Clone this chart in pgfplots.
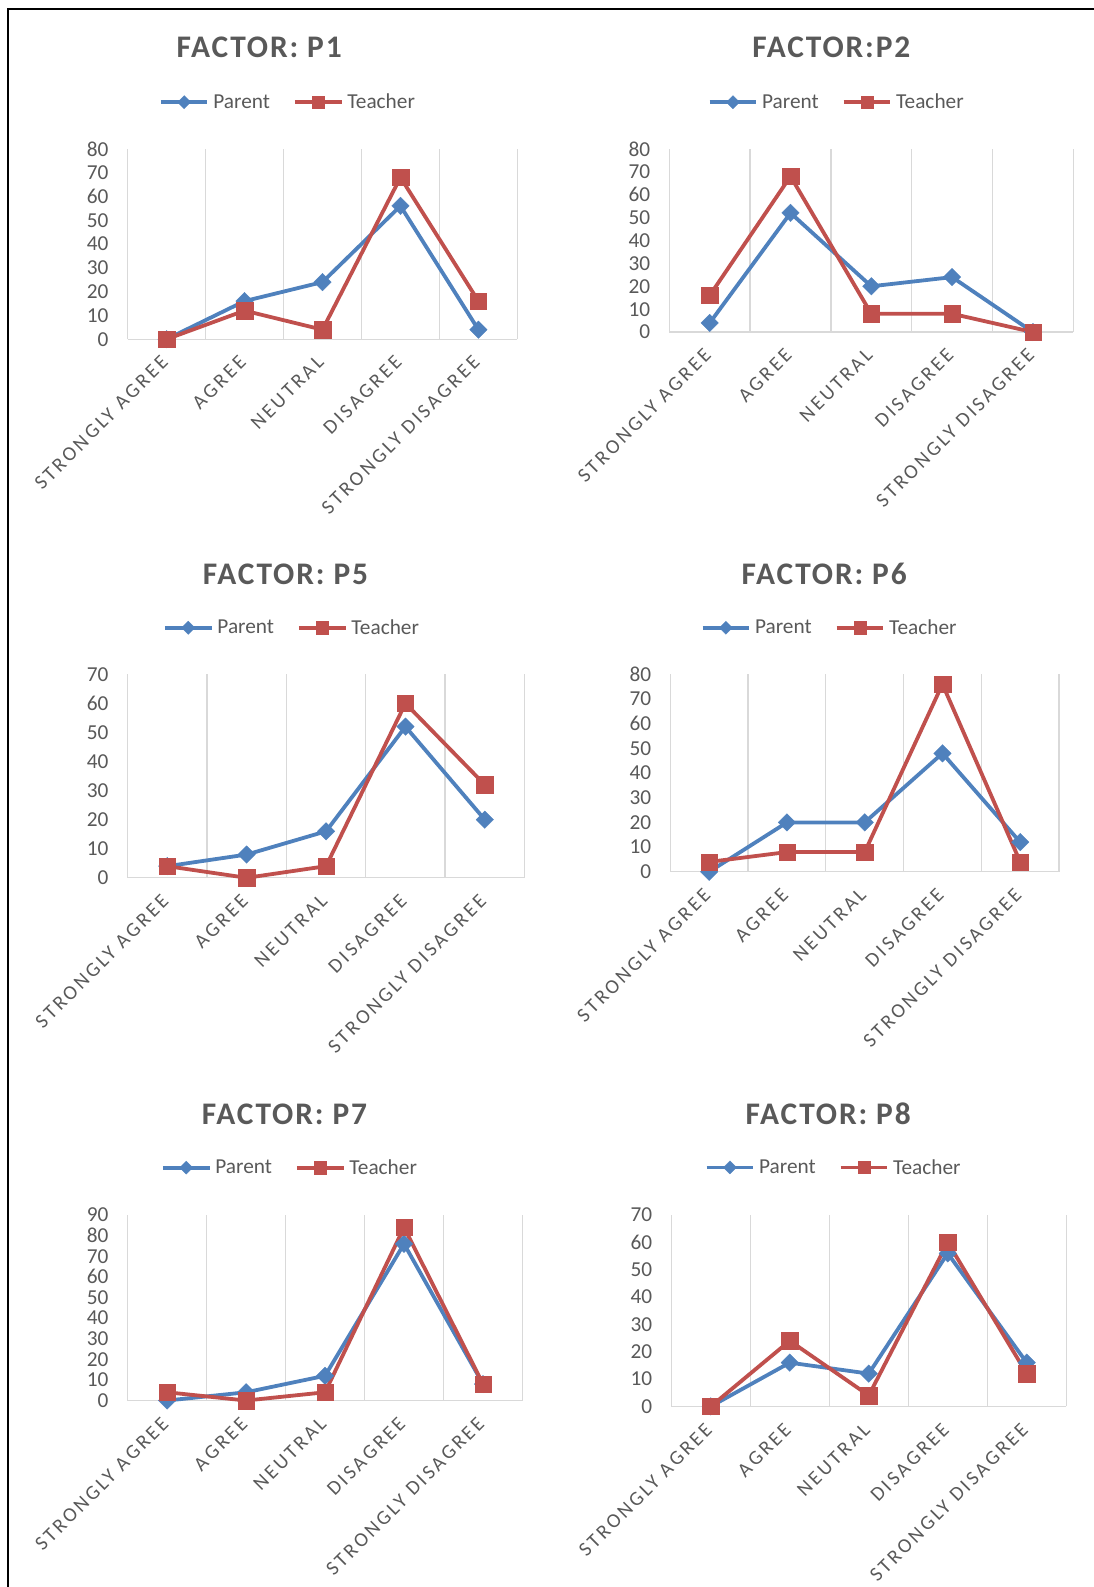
\documentclass[border=0pt]{standalone}
\usepackage{fontspec}
\setmainfont{Carlito}
\newfontfamily\catfont[LetterSpace=14]{Carlito}
\newfontfamily\titlefont[LetterSpace=6]{Carlito}
\usepackage{pgfplots}
\pgfplotsset{compat=1.18}

\definecolor{pblue}{HTML}{4F81BD}
\definecolor{tred}{HTML}{C0504D}
\definecolor{txtgray}{HTML}{595959}
\definecolor{gridgray}{HTML}{D9D9D9}

\pgfplotsset{
  likert/.style={
    scale only axis,
    clip=false,
    xmin=-0.5, xmax=4.5, ymin=0,
    xtick={0,...,4},
    xticklabels={STRONGLY AGREE, AGREE, NEUTRAL, DISAGREE, STRONGLY DISAGREE},
    minor xtick={-0.5,0.5,...,4.5},
    xminorgrids=true,
    minor grid style={draw=gridgray, line width=1.3pt},
    major tick length=0pt, minor tick length=0pt,
    axis x line*=bottom,
    axis y line*=left,
    x axis line style={draw=gridgray, line width=1.3pt, -},
    y axis line style={draw=none},
    ytick distance=10,
    /pgf/number format/assume math mode=true,
    tick label style={text=txtgray},
    yticklabel style={font=\fontsize{21.3}{25}\selectfont, anchor=east, inner sep=0pt, xshift=-19pt},
    xticklabel style={font=\catfont\fontsize{20.2}{24}\selectfont, inner sep=0pt, anchor=east, yshift=-20pt, xshift=-2pt, rotate=45},
    legend columns=2,
    legend style={draw=none, fill=none, inner sep=0pt, outer sep=0pt, anchor=west,
      font=\fontsize{21.3}{25}\selectfont, text=txtgray,
      nodes={inner sep=0pt},
      /tikz/every odd column/.style={column sep=4pt},
      /tikz/every even column/.style={column sep=23pt}},
    legend image code/.code={\draw[mark repeat=2, mark phase=2, ##1, every mark/.append style={scale=0.75}] plot coordinates {(0pt,0pt) (23.3pt,0pt) (46.6pt,0pt)};},
  },
  parent/.style={color=pblue, line width=3.8pt, mark=square*, mark size=6.2pt,
    mark options={solid, rotate=45, line width=0.3pt}},
  teacher/.style={color=tred, line width=3.8pt, mark=square*, mark size=8.2pt,
    mark options={solid, line width=0.3pt}},
}

\begin{document}
\begin{tikzpicture}
\draw[line width=2.5pt, black] (8.1pt,-1587pt) -- (8.1pt,-9.1pt) -- (1094pt,-9.1pt);

% titles
\begin{scope}[every node/.style={font=\titlefont\bfseries\fontsize{31.4}{36}\selectfont, text=txtgray}]
\node at (259.2pt,-47.6pt) {FACTOR: P1};
\node at (831.3pt,-47.6pt) {FACTOR:P2};
\node at (285.5pt,-574.1pt) {FACTOR: P5};
\node at (824.2pt,-574.1pt) {FACTOR: P6};
\node at (284.5pt,-1113.8pt) {FACTOR: P7};
\node at (828.2pt,-1113.8pt) {FACTOR: P8};
\end{scope}

% P1
\begin{axis}[likert, at={(127.6pt,-339.2pt)}, anchor=south west, width=389.8pt, height=190.4pt, ymax=80,
  legend style={at={(0.0805,1.2447)}}]
\addplot[parent] coordinates {(0,0) (1,16) (2,24) (3,56) (4,4)};
\addplot[teacher] coordinates {(0,0) (1,12) (2,4) (3,68) (4,16)};
\legend{Parent, Teacher}
\end{axis}

% P2
\begin{axis}[likert, at={(669.3pt,-332.1pt)}, anchor=south west, width=404pt, height=183.3pt, ymax=80,
  legend style={at={(0.0952,1.2541)}}]
\addplot[parent] coordinates {(0,4) (1,52) (2,20) (3,24) (4,0)};
\addplot[teacher] coordinates {(0,16) (1,68) (2,8) (3,8) (4,0)};
\legend{Parent, Teacher}
\end{axis}

% P5
\begin{axis}[likert, at={(127.6pt,-877.8pt)}, anchor=south west, width=396.9pt, height=203.5pt, ymax=70,
  legend style={at={(0.0893,1.2289)}}]
\addplot[parent] coordinates {(0,4) (1,8) (2,16) (3,52) (4,20)};
\addplot[teacher] coordinates {(0,4) (1,0) (2,4) (3,60) (4,32)};
\legend{Parent, Teacher}
\end{axis}

% P6
\begin{axis}[likert, at={(670.3pt,-871.8pt)}, anchor=south west, width=388.8pt, height=197.5pt, ymax=80,
  legend style={at={(0.0781,1.2359)}}]
\addplot[parent] coordinates {(0,0) (1,20) (2,20) (3,48) (4,12)};
\addplot[teacher] coordinates {(0,4) (1,8) (2,8) (3,76) (4,4)};
\legend{Parent, Teacher}
\end{axis}

% P7
\begin{axis}[likert, at={(127.6pt,-1400.5pt)}, anchor=south west, width=394.9pt, height=185.5pt, ymax=90,
  legend style={at={(0.0846,1.2554)}}]
\addplot[parent] coordinates {(0,0) (1,4) (2,12) (3,76) (4,8)};
\addplot[teacher] coordinates {(0,4) (1,0) (2,4) (3,84) (4,8)};
\legend{Parent, Teacher}
\end{axis}

% P8
\begin{axis}[likert, at={(671.3pt,-1406.4pt)}, anchor=south west, width=394.9pt, height=191.4pt, ymax=70,
  legend style={at={(0.0846,1.2487)}}]
\addplot[parent] coordinates {(0,0) (1,16) (2,12) (3,56) (4,16)};
\addplot[teacher] coordinates {(0,0) (1,24) (2,4) (3,60) (4,12)};
\legend{Parent, Teacher}
\end{axis}

\pgfresetboundingbox
\useasboundingbox (0pt,0pt) rectangle (1094pt,-1587pt);
\end{tikzpicture}
\end{document}
